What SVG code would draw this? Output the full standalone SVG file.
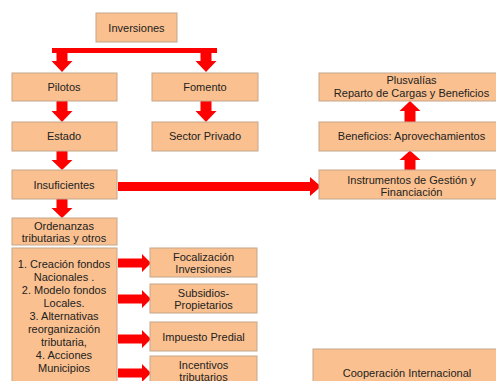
<svg xmlns="http://www.w3.org/2000/svg" width="496" height="381" viewBox="0 0 496 381">
<style>
.box{fill:#FAC08F;stroke:#C4A68A;stroke-width:1}
.t{font-family:"Liberation Sans",Arial,sans-serif;font-size:11px;fill:#222;text-anchor:middle}
.arr{fill:#FF0000;stroke:none}
</style>
<rect width="496" height="381" fill="#fff"/>
<g id="connectors">
<rect class="arr" x="52" y="48" width="165" height="5"/>
<polygon class="arr" points="56.5,50 67.5,50 67.5,61 72.5,61 62,72 51.5,61 56.5,61"/>
<polygon class="arr" points="200.5,50 211.5,50 211.5,61 216.5,61 206,72 195.5,61 200.5,61"/>
<polygon class="arr" points="56.5,101 67.5,101 67.5,111 72.5,111 62,122 51.5,111 56.5,111"/>
<polygon class="arr" points="200.5,101 211.5,101 211.5,111 216.5,111 206,122 195.5,111 200.5,111"/>
<polygon class="arr" points="56.5,151 67.5,151 67.5,160 72.5,160 62,170 51.5,160 56.5,160"/>
<polygon class="arr" points="56.5,199 67.5,199 67.5,208 72.5,208 62,218 51.5,208 56.5,208"/>
<polygon class="arr" points="118,182 310,182 310,177 321,186.5 310,196 310,191 118,191"/>
<polygon class="arr" points="404.5,170 415.5,170 415.5,160 420.5,160 410,150.5 399.5,160 404.5,160"/>
<polygon class="arr" points="404.5,122 415.5,122 415.5,111 420.5,111 410,101 399.5,111 404.5,111"/>
<polygon class="arr" points="118,258.5 142,258.5 142,254 151,263 142,272 142,267.5 118,267.5"/>
<polygon class="arr" points="118,294.5 142,294.5 142,290 151,299 142,308 142,303.5 118,303.5"/>
<polygon class="arr" points="118,334.5 142,334.5 142,330 151,339 142,348 142,343.5 118,343.5"/>
<polygon class="arr" points="118,368.5 142,368.5 142,364 151,373 142,382 142,377.5 118,377.5"/>
</g>
<g id="inversiones"><rect class="box" x="96" y="13" width="81" height="29"/><text class="t" x="136.5" y="31.5">Inversiones</text></g>
<g id="pilotos"><rect class="box" x="12" y="73" width="105" height="28"/><text class="t" x="64" y="91">Pilotos</text></g>
<g id="fomento"><rect class="box" x="152" y="73" width="106" height="28"/><text class="t" x="205" y="91">Fomento</text></g>
<g id="estado"><rect class="box" x="12" y="122" width="105" height="29"/><text class="t" x="64" y="140">Estado</text></g>
<g id="sector-privado"><rect class="box" x="152" y="122" width="106" height="29"/><text class="t" x="205" y="140">Sector Privado</text></g>
<g id="insuficientes"><rect class="box" x="12" y="170" width="105" height="29"/><text class="t" x="64" y="188.5">Insuficientes</text></g>
<g id="ordenanzas"><rect class="box" x="12" y="218" width="105" height="27"/><text class="t" x="64" y="230">Ordenanzas</text><text class="t" x="64" y="242">tributarias y otros</text></g>
<g id="lista"><rect class="box" x="12" y="248" width="105" height="140"/>
<text class="t" x="64" y="268">1. Creación fondos</text>
<text class="t" x="64" y="281">Nacionales .</text>
<text class="t" x="64" y="294">2. Modelo fondos</text>
<text class="t" x="64" y="307">Locales.</text>
<text class="t" x="64" y="320">3.  Alternativas</text>
<text class="t" x="64" y="333">reorganización</text>
<text class="t" x="64" y="346">tributaria,</text>
<text class="t" x="64" y="359">4. Acciones</text>
<text class="t" x="64" y="372">Municipios</text>
</g>
<g id="focalizacion"><rect class="box" x="150" y="248" width="107" height="29"/><text class="t" x="203.5" y="261">Focalización</text><text class="t" x="203.5" y="273">Inversiones</text></g>
<g id="subsidios"><rect class="box" x="150" y="284" width="107" height="29"/><text class="t" x="203.5" y="297">Subsidios-</text><text class="t" x="203.5" y="309">Propietarios</text></g>
<g id="impuesto"><rect class="box" x="150" y="322" width="107" height="29"/><text class="t" x="203.5" y="340.5">Impuesto Predial</text></g>
<g id="incentivos"><rect class="box" x="150" y="356" width="107" height="32"/><text class="t" x="203.5" y="369">Incentivos</text><text class="t" x="203.5" y="381">tributarios</text></g>
<g id="plusvalias"><rect class="box" x="319" y="73" width="185" height="28"/><text class="t" x="411.5" y="84">Plusvalías</text><text class="t" x="411.5" y="97">Reparto de Cargas y Beneficios</text></g>
<g id="beneficios"><rect class="box" x="319" y="122" width="185" height="29"/><text class="t" x="411.5" y="140">Beneficios: Aprovechamientos</text></g>
<g id="instrumentos"><rect class="box" x="319" y="170" width="185" height="29"/><text class="t" x="411.5" y="184">Instrumentos de Gestión y</text><text class="t" x="411.5" y="196">Financiación</text></g>
<g id="cooperacion"><rect class="box" x="313" y="349" width="190" height="40"/><text class="t" x="407" y="377">Cooperación Internacional</text></g>
</svg>
